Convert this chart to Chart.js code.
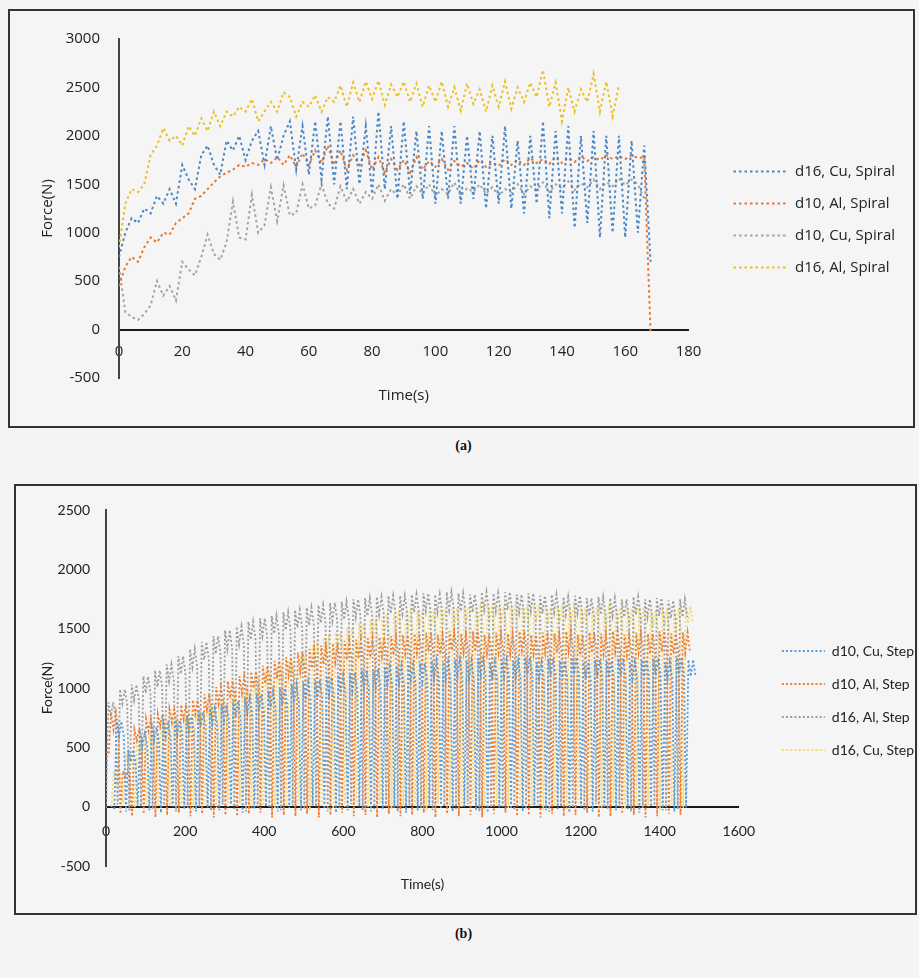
<!DOCTYPE html>
<html lang="en">
<head>
<meta charset="UTF-8">
<title>Force vs Time</title>
<script src="https://cdn.jsdelivr.net/npm/chart.js@4.4.7/dist/chart.umd.min.js"></script>
<style>
  body { margin: 0; background: #f4f4f4; width: 919px; height: 978px; position: relative; overflow: hidden; }
  .panel { position: absolute; box-sizing: border-box; border: 2px solid #333; background: #f5f5f5; }
  #panelA { left: 8px; top: 9px; width: 907px; height: 419px; }
  #panelB { left: 14px; top: 484px; width: 903px; height: 431px; }
  .panel canvas { display: block; }
  .caption { position: absolute; left: 4px; width: 919px; text-align: center; font: bold 14px "Liberation Serif", serif; color: #111; }
</style>
</head>
<body>
<div class="panel" id="panelA"><canvas id="chartA" width="903" height="415"></canvas></div>
<div class="caption" style="top:438px">(a)</div>
<div class="panel" id="panelB"><canvas id="chartB" width="899" height="427"></canvas></div>
<div class="caption" style="top:926px">(b)</div>
<script>
// ---------- (a) spiral path, one value every 2 s (t = 0 .. 168) ----------
const stepA = 2;
const d16CuSpiral = [
  750, 1000, 1150, 1100, 1250, 1200, 1380, 1300, 1450, 1300,
  1700, 1550, 1450, 1800, 1900, 1700, 1600, 1950, 1850, 2000,
  1750, 1950, 2050, 1700, 2100, 1750, 2000, 2150, 1650, 2100,
  1600, 2150, 1550, 2200, 1500, 2150, 1450, 2200, 1500, 2100,
  1400, 2250, 1450, 2100, 1350, 2150, 1400, 2050, 1350, 2100,
  1300, 2050, 1350, 2100, 1300, 2000, 1350, 2050, 1250, 2000,
  1300, 2100, 1250, 1950, 1200, 2000, 1300, 2150, 1150, 2050,
  1200, 2100, 1050, 2000, 1100, 2050, 950, 2000, 1000, 2000,
  950, 1950, 1000, 1900, 700
];
const d10AlSpiral = [
  450, 650, 750, 700, 850, 950, 900, 1000, 980, 1100,
  1150, 1200, 1350, 1380, 1450, 1520, 1580, 1620, 1650, 1700,
  1680, 1720, 1700, 1760, 1720, 1780, 1700, 1800, 1680, 1820,
  1700, 1850, 1720, 1900, 1700, 1850, 1650, 1800, 1700, 1850,
  1650, 1780, 1620, 1760, 1650, 1750, 1620, 1780, 1650, 1740,
  1680, 1760, 1650, 1740, 1680, 1720, 1660, 1750, 1680, 1720,
  1690, 1760, 1700, 1750, 1700, 1770, 1720, 1760, 1710, 1780,
  1720, 1770, 1730, 1790, 1740, 1780, 1750, 1800, 1760, 1790,
  1760, 1800, 1770, 1780, -30
];
const d10CuSpiral = [
  650, 180, 130, 100, 160, 250, 500, 350, 450, 300,
  700, 620, 560, 750, 980, 780, 720, 900, 1320, 950,
  930, 1390, 1000, 1080, 1470, 1120, 1490, 1180, 1200, 1500,
  1250, 1280, 1500, 1300, 1250, 1480, 1320, 1450, 1300, 1420,
  1350, 1500, 1330, 1450, 1380, 1500, 1350, 1480, 1400, 1500,
  1380, 1450, 1400, 1520, 1380, 1460, 1420, 1500, 1400, 1470,
  1380, 1450, 1420, 1500, 1400, 1480, 1440, 1520, 1420, 1500,
  1460, 1530, 1440, 1510, 1470, 1550, 1450, 1520, 1480, 1560,
  1490, 1550, 1500, 1350, null
];
const d16AlSpiral = [
  850, 1300, 1450, 1420, 1500, 1800, 1900, 2080, 1950, 2000,
  1900, 2100, 2000, 2180, 2050, 2250, 2100, 2250, 2200, 2300,
  2250, 2380, 2150, 2250, 2350, 2250, 2450, 2400, 2200, 2350,
  2300, 2420, 2250, 2400, 2350, 2520, 2300, 2550, 2350, 2560,
  2380, 2570, 2320, 2530, 2400, 2560, 2350, 2540, 2300, 2520,
  2350, 2560, 2300, 2500, 2260, 2540, 2330, 2480, 2250, 2520,
  2300, 2560, 2280, 2500, 2350, 2550, 2400, 2680, 2300, 2550,
  2150, 2500, 2250, 2480, 2350, 2640, 2250, 2560, 2200, 2520,
  null, null, null, null, null
];
const labelsA = ['d16, Cu, Spiral', 'd10, Al, Spiral', 'd10, Cu, Spiral', 'd16, Al, Spiral'];
const xTicksA = [0, 20, 40, 60, 80, 100, 120, 140, 160, 180];
const yTicksA = [-500, 0, 500, 1000, 1500, 2000, 2500, 3000];

// ---------- (b) step path: per cycle a drop (low), a peak (top) and a wobble (mid) ----------
const cycleB = 29.5;
const d10CuStepTop = [
  720, 480, 620, 670, 700, 730, 760, 800, 830, 860,
  890, 920, 950, 980, 1000, 1030, 1050, 1070, 1090, 1110,
  1130, 1150, 1160, 1180, 1190, 1200, 1210, 1230, 1220, 1240,
  1230, 1250, 1220, 1240, 1230, 1260, 1220, 1250, 1230, 1260,
  1220, 1240, 1230, 1250, 1220, 1240, 1250, 1220, 1260, 1240
];
const d10CuStepMid = [
  600, 380, 520, 560, 590, 610, 640, 680, 700, 730,
  760, 790, 810, 840, 860, 880, 900, 920, 940, 960,
  980, 1000, 1010, 1030, 1040, 1050, 1060, 1080, 1070, 1100,
  1080, 1110, 1070, 1100, 1090, 1120, 1080, 1110, 1090, 1120,
  1080, 1100, 1090, 1110, 1080, 1100, 1110, 1080, 1120, 1100
];
const d10CuStepLow = [
  -20, -40, 10, -30, -50, 0, -20, -40, -10, -30,
  20, -50, -20, 0, -40, -10, -30, 10, -20, -50,
  -30, 0, -40, -20, -10, -50, -30, 10, -20, -40,
  0, -30, -50, -10, -20, -40, 10, -30, -20, -50,
  0, -40, -10, -30, -20, -50, 0, -30, -40, -10
];
const d10AlStepTop = [
  800, 300, 650, 740, 780, 820, 860, 900, 950, 1010,
  1060, 1100, 1140, 1190, 1230, 1260, 1300, 1330, 1360, 1380,
  1400, 1410, 1420, 1430, 1440, 1450, 1460, 1470, 1450, 1480,
  1460, 1480, 1450, 1470, 1460, 1480, 1450, 1470, 1460, 1480,
  1450, 1470, 1460, 1480, 1450, 1470, 1460, 1480, 1460, 1470
];
const d10AlStepMid = [
  650, 250, 560, 640, 680, 710, 740, 780, 820, 870,
  920, 960, 1000, 1040, 1080, 1110, 1140, 1170, 1200, 1220,
  1240, 1250, 1260, 1270, 1280, 1290, 1300, 1310, 1290, 1320,
  1300, 1310, 1290, 1300, 1290, 1320, 1290, 1300, 1300, 1310,
  1280, 1300, 1290, 1310, 1280, 1300, 1290, 1310, 1290, 1300
];
const d10AlStepLow = [
  450, -60, -80, -60, -90, -70, -50, -80, -60, -90,
  -70, -80, -60, -50, -90, -70, -80, -60, -90, -70,
  -50, -80, -70, -90, -60, -80, -70, -50, -90, -60,
  -80, -70, -90, -60, -50, -80, -70, -90, -60, -80,
  -70, -50, -90, -80, -60, -70, -90, -80, -60, -70
];
const d16AlStepTop = [
  880, 990, 1030, 1100, 1150, 1200, 1270, 1330, 1390, 1440,
  1490, 1520, 1560, 1590, 1610, 1640, 1660, 1680, 1700, 1720,
  1730, 1750, 1760, 1770, 1780, 1780, 1790, 1800, 1790, 1810,
  1800, 1790, 1810, 1800, 1810, 1790, 1800, 1780, 1790, 1770,
  1780, 1760, 1770, 1760, 1750, 1770, 1750, 1760, 1740, 1750
];
const d16AlStepMid = [
  760, 870, 900, 960, 1010, 1060, 1120, 1180, 1240, 1290,
  1330, 1370, 1410, 1440, 1460, 1490, 1510, 1530, 1550, 1570,
  1580, 1600, 1610, 1620, 1630, 1630, 1640, 1650, 1640, 1660,
  1650, 1640, 1660, 1650, 1660, 1640, 1650, 1630, 1640, 1620,
  1630, 1610, 1620, 1610, 1600, 1620, 1600, 1610, 1590, 1600
];
const d16AlStepLow = [
  -10, 20, -30, 0, -20, 10, -40, -10, 0, -30,
  20, -20, -40, 0, -10, -30, 10, -20, 0, -40,
  -10, 20, -30, -20, 0, -40, 10, -10, -30, 0,
  -20, 20, -40, -10, 0, -30, -20, 10, -40, 0,
  -10, -30, 20, -20, 0, -40, -10, 10, -30, -20
];
const d16CuStepTop = [
  300, 450, 560, 630, 690, 730, 770, 810, 850, 900,
  950, 1000, 1060, 1120, 1180, 1240, 1300, 1360, 1420, 1470,
  1510, 1550, 1580, 1600, 1620, 1640, 1650, 1660, 1670, 1680,
  1690, 1680, 1700, 1690, 1700, 1690, 1700, 1680, 1700, 1690,
  1680, 1690, 1670, 1680, 1670, 1680, 1660, 1670, 1650, 1690
];
const d16CuStepMid = [
  200, 350, 450, 520, 580, 620, 660, 700, 740, 780,
  830, 880, 930, 990, 1050, 1100, 1160, 1220, 1280, 1330,
  1370, 1410, 1440, 1460, 1480, 1500, 1510, 1520, 1530, 1540,
  1550, 1540, 1560, 1550, 1560, 1550, 1560, 1540, 1560, 1550,
  1540, 1550, 1530, 1540, 1530, 1540, 1520, 1530, 1510, 1550
];
const d16CuStepLow = [
  0, 30, -10, 20, -20, 10, 0, -30, 20, -10,
  0, 30, -20, 10, -10, 0, 20, -30, 10, -20,
  0, 30, -10, 20, -20, 0, 10, -30, 20, -10,
  0, 30, -20, 10, -10, 20, 0, -30, 10, -20,
  30, 0, -10, 20, -20, 10, 0, -30, 20, -10
];
const labelsB = ['d10, Cu, Step', 'd10, Al, Step', 'd16, Al, Step', 'd16, Cu, Step'];
const phasesB = [21, 7, 0, 14];
const xTicksB = [0, 200, 400, 600, 800, 1000, 1200, 1400, 1600];
const yTicksB = [-500, 0, 500, 1000, 1500, 2000, 2500];

// helpers
function spiralPoints(values) {
  return values.map((v, i) => ({ x: i * stepA, y: v }));
}
// one cycle: drop -> peak -> wobble -> peak -> wobble
function stepPoints(tops, mids, lows, phase) {
  const pts = [];
  tops.forEach((top, i) => {
    const t = phase + i * cycleB;
    pts.push({ x: t, y: lows[i] });
    pts.push({ x: t + 6, y: top });
    pts.push({ x: t + 12, y: mids[i] });
    pts.push({ x: t + 18, y: top });
    pts.push({ x: t + 24, y: mids[i] });
  });
  return pts;
}
function dotted(label, data, color, width, dash) {
  return {
    label, data,
    borderColor: color, backgroundColor: color,
    borderWidth: width, borderDash: dash,
    pointRadius: 0, tension: 0, fill: false
  };
}
// legend keeps the dotted look of each dataset
function dottedLegend(chart) {
  const items = Chart.defaults.plugins.legend.labels.generateLabels(chart);
  items.forEach(it => {
    const ds = chart.data.datasets[it.datasetIndex];
    it.lineDash = ds.borderDash;
    it.lineWidth = ds.borderWidth;
    it.strokeStyle = ds.borderColor;
  });
  return items;
}
function axes(xTicks, yTicks, font, o) {
  const txt = '#222';
  const plain = v => String(v);
  return {
    x: {
      type: 'linear', position: { y: 0 },
      min: xTicks[0], max: xTicks[xTicks.length - 1],
      ticks: { stepSize: xTicks[1] - xTicks[0], padding: o.xPad, color: txt, font: font, callback: plain },
      grid: { display: false, drawTicks: false },
      border: { display: true, color: '#1a1a1a', width: 2 },
      title: { display: true, text: 'Time(s)', color: txt, font: font, padding: { top: o.xTitlePad, bottom: 0 } }
    },
    y: {
      min: yTicks[0], max: yTicks[yTicks.length - 1],
      ticks: { stepSize: yTicks[1] - yTicks[0], padding: o.yPad, color: txt, font: font, callback: plain },
      grid: { display: false, drawTicks: false },
      border: { display: true, color: '#444', width: 2 },
      title: { display: true, text: 'Force(N)', color: txt, font: font, padding: { top: o.yTitlePad, bottom: 0 } },
      afterFit(s) { s.width = o.yWidth; }
    },
    gap: {
      type: 'linear', position: 'right', display: true,
      grid: { display: false, drawTicks: false }, border: { display: false },
      ticks: { display: false },
      afterFit(s) { s.width = o.gap; }
    }
  };
}
function legendOpts(font, lineLen, padding, shift) {
  return {
    position: 'right', maxWidth: 240,
    title: { display: true, text: ' ', font: { size: 10 }, padding: shift },
    labels: {
      usePointStyle: true, pointStyle: 'line', pointStyleWidth: lineLen,
      padding: padding, color: '#222', font: font, generateLabels: dottedLegend
    }
  };
}

const fontA = { family: 'Open Sans', size: 15 };
new Chart(document.getElementById('chartA'), {
  type: 'line',
  data: {
    datasets: [
      dotted(labelsA[0], spiralPoints(d16CuSpiral), '#4A86C6', 2, [2.5, 3]),
      dotted(labelsA[1], spiralPoints(d10AlSpiral), '#E8772E', 2, [2.5, 3]),
      dotted(labelsA[2], spiralPoints(d10CuSpiral), '#A3A3A3', 2, [2.5, 3]),
      dotted(labelsA[3], spiralPoints(d16AlSpiral), '#EDBE1F', 2, [2.5, 3])
    ]
  },
  options: {
    responsive: false, animation: false, devicePixelRatio: 1,
    layout: { padding: { left: 0, top: 20, bottom: 48, right: 8 } },
    scales: axes(xTicksA, yTicksA, fontA, { xPad: 13, xTitlePad: 13, yPad: 19, yTitlePad: 29, yWidth: 109, gap: 28 }),
    plugins: {
      legend: legendOpts(fontA, 54, 17, 9),
      tooltip: { enabled: false }
    }
  }
});

const fontB = { family: 'Lato', size: 14 };
new Chart(document.getElementById('chartB'), {
  type: 'line',
  data: {
    datasets: [
      dotted(labelsB[0], stepPoints(d10CuStepTop, d10CuStepMid, d10CuStepLow, phasesB[0]), '#5B9BD5', 1.8, [2, 2.2]),
      dotted(labelsB[1], stepPoints(d10AlStepTop, d10AlStepMid, d10AlStepLow, phasesB[1]), '#ED7D31', 1.8, [2, 2.2]),
      dotted(labelsB[2], stepPoints(d16AlStepTop, d16AlStepMid, d16AlStepLow, phasesB[2]), '#9C9C9C', 1.8, [2, 2.2]),
      dotted(labelsB[3], stepPoints(d16CuStepTop, d16CuStepMid, d16CuStepLow, phasesB[3]), '#F7DA74', 1.8, [2, 2.2])
    ]
  },
  options: {
    responsive: false, animation: false, devicePixelRatio: 1,
    layout: { padding: { left: 0, top: 20, bottom: 47, right: -9 } },
    scales: axes(xTicksB, yTicksB, fontB, { xPad: 16, xTitlePad: 21, yPad: 16, yTitlePad: 23, yWidth: 90, gap: 24 }),
    plugins: {
      legend: legendOpts(fontB, 43, 19, 8.5),
      tooltip: { enabled: false }
    }
  }
});
</script>
</body>
</html>
